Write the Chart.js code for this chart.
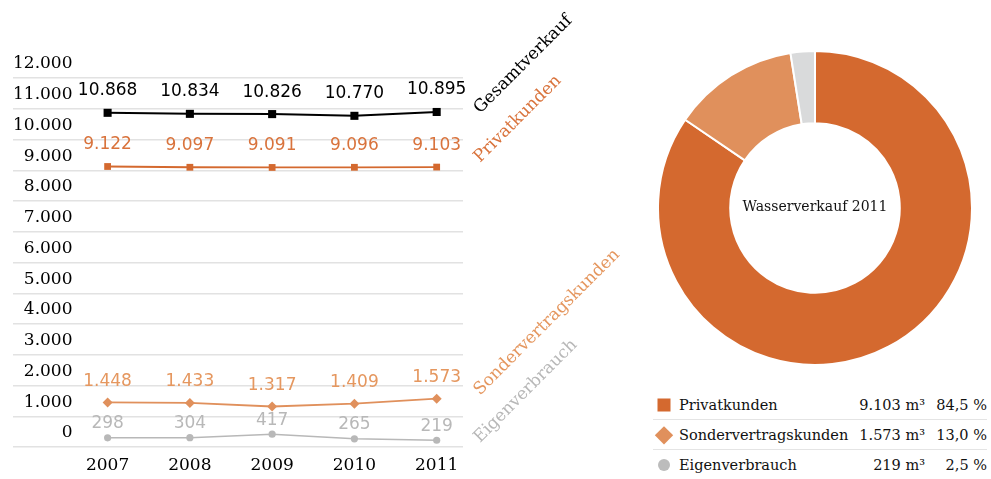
<!DOCTYPE html>
<html lang="de">
<head>
<meta charset="utf-8">
<title>Wasserverkauf</title>
<script src="https://cdn.jsdelivr.net/npm/chart.js@4.4.1/dist/chart.umd.min.js"></script>
<style>
  html, body { margin: 0; padding: 0; background: #fff; }
  body { width: 991px; height: 479px; position: relative; overflow: hidden; font-family: "DejaVu Serif", serif; }
  #lineWrap { position: absolute; left: 0; top: 0; width: 645px; height: 479px; }
  #pieWrap { position: absolute; left: 657px; top: 50px; width: 316px; height: 316px; }
  #legend { position: absolute; left: 653px; top: 390px; width: 334px; }
  .row { position: relative; box-sizing: border-box; height: 30px; line-height: 30px; font-size: 14.5px; color: #111; }
  .row:not(:last-child) { border-bottom: 1.5px solid #e4e4e4; }
  .row .name { position: absolute; left: 26px; top: 0; }
  .row .volume { position: absolute; right: 62px; top: 0; }
  .row .share { position: absolute; right: 0; top: 0; }
  .marker { position: absolute; left: 11px; top: 15px; transform: translate(-50%, -50%); }
  .marker.square { width: 13px; height: 13px; background: #d4692f; }
  .marker.diamond { width: 12.5px; height: 12.5px; background: #e0905c; transform: translate(-50%, -50%) rotate(45deg); }
  .marker.circle { width: 12px; height: 12px; border-radius: 50%; background: #bcbcbc; }
</style>
</head>
<body>
<div id="lineWrap"><canvas id="lineChart"></canvas></div>
<div id="pieWrap"><canvas id="pieChart"></canvas></div>
<div id="legend"></div>
<script>
const years = [2007, 2008, 2009, 2010, 2011];
const gesamtverkauf = [10868, 10834, 10826, 10770, 10895];
const privatkunden = [9122, 9097, 9091, 9096, 9103];
const sondervertragskunden = [1448, 1433, 1317, 1409, 1573];
const eigenverbrauch = [298, 304, 417, 265, 219];

const yMin = 0;
const yMax = 12000;
const yStep = 1000;

const pieTitle = "Wasserverkauf 2011";
const pieLabels = ["Privatkunden", "Sondervertragskunden", "Eigenverbrauch"];
const pieVolumes = [9103, 1573, 219];
const pieShares = [84.5, 13.0, 2.5];

const numberFormatter = new Intl.NumberFormat("de-DE");
const shareFormatter = new Intl.NumberFormat("de-DE", { minimumFractionDigits: 1, maximumFractionDigits: 1 });

const seriesStyles = [
  { label: "Gesamtverkauf", data: gesamtverkauf, line: "#000000", text: "#000000", pointStyle: "rect", radius: 5.7, width: 2, gap: 22, nameShift: 2 },
  { label: "Privatkunden", data: privatkunden, line: "#d4692f", text: "#d9733c", pointStyle: "rect", radius: 4.8, width: 1.8, gap: 22, nameShift: -4 },
  { label: "Sondervertragskunden", data: sondervertragskunden, line: "#e0905c", text: "#e5975f", pointStyle: "rectRot", radius: 5, width: 1.8, gap: 21, nameShift: -3 },
  { label: "Eigenverbrauch", data: eigenverbrauch, line: "#b8b8b8", text: "#b8b8b8", pointStyle: "circle", radius: 3.6, width: 1.5, gap: 14, nameShift: 3 },
];

const pieColors = ["#d4692f", "#e0905c", "#d9dadb"];
const markerClasses = ["square", "diamond", "circle"];

// values above each point plus the rotated series names at the right end
const lineLabelPlugin = {
  id: "lineLabels",
  afterDatasetsDraw(chart) {
    const { ctx } = chart;
    const xScale = chart.scales.x;
    ctx.save();
    chart.data.datasets.forEach((dataset, i) => {
      const style = seriesStyles[i];
      const meta = chart.getDatasetMeta(i);
      ctx.fillStyle = style.text;
      ctx.font = '17px "DejaVu Sans"';
      ctx.textAlign = "center";
      ctx.textBaseline = "middle";
      meta.data.forEach((point, j) => {
        ctx.fillText(numberFormatter.format(style.data[j]), point.x, point.y - style.gap);
      });

      const last = meta.data[meta.data.length - 1];
      ctx.save();
      ctx.translate(xScale.right + 17, last.y + style.nameShift);
      ctx.rotate(-Math.PI / 4);
      ctx.textAlign = "left";
      ctx.textBaseline = "alphabetic";
      ctx.font = '17px "DejaVu Serif"';
      ctx.fillText(dataset.label, 0, 0);
      ctx.restore();
    });
    ctx.restore();
  },
};

const centerTextPlugin = {
  id: "centerText",
  afterDraw(chart) {
    const { ctx, chartArea } = chart;
    ctx.save();
    ctx.fillStyle = "#111";
    ctx.font = '14px "DejaVu Serif"';
    ctx.textAlign = "center";
    ctx.textBaseline = "middle";
    ctx.fillText(pieTitle, (chartArea.left + chartArea.right) / 2, (chartArea.top + chartArea.bottom) / 2 - 1);
    ctx.restore();
  },
};

function renderLineChart() {
  const context = document.getElementById("lineChart").getContext("2d");
  new Chart(context, {
    type: "line",
    data: {
      datasets: seriesStyles.map((style) => ({
        label: style.label,
        data: years.map((year, i) => ({ x: year, y: style.data[i] })),
        borderColor: style.line,
        backgroundColor: style.line,
        borderWidth: style.width,
        pointStyle: style.pointStyle,
        pointRadius: style.radius,
        pointBorderWidth: 0,
        tension: 0,
        fill: false,
      })),
    },
    options: {
      responsive: true,
      maintainAspectRatio: false,
      animation: false,
      layout: { padding: { left: 13, right: 182, top: 78, bottom: 4 } },
      plugins: {
        legend: { display: false },
        tooltip: { enabled: false },
      },
      scales: {
        x: {
          type: "linear",
          min: 2005.85,
          max: 2011.32,
          grid: { display: false, drawTicks: false },
          border: { display: false },
          afterBuildTicks(axis) {
            axis.ticks = years.map((value) => ({ value }));
          },
          afterFit(axis) {
            axis.height = 28;
          },
          ticks: {
            color: "#000",
            padding: 8,
            font: { family: "DejaVu Serif", size: 17 },
            callback: (value) => String(value),
          },
        },
        y: {
          min: yMin,
          max: yMax,
          border: { display: false },
          grid: { color: "#e2e2e2", lineWidth: 1.5, drawTicks: false },
          ticks: {
            stepSize: yStep,
            mirror: true,
            crossAlign: "far",
            padding: 0,
            labelOffset: -14,
            color: "#000",
            font: { family: "DejaVu Serif", size: 17 },
            callback: (value) => numberFormatter.format(value),
          },
        },
      },
    },
    plugins: [lineLabelPlugin],
  });
}

function renderPieChart() {
  const context = document.getElementById("pieChart").getContext("2d");
  new Chart(context, {
    type: "doughnut",
    data: {
      labels: pieLabels,
      datasets: [
        {
          data: pieShares,
          backgroundColor: pieColors,
          borderColor: "#ffffff",
          borderWidth: 2,
        },
      ],
    },
    options: {
      responsive: true,
      maintainAspectRatio: false,
      animation: false,
      cutout: "54%",
      plugins: {
        legend: { display: false },
        tooltip: { enabled: false },
      },
    },
    plugins: [centerTextPlugin],
  });
}

function renderLegend() {
  document.getElementById("legend").innerHTML = pieLabels
    .map(
      (label, i) => `
        <div class="row">
          <span class="marker ${markerClasses[i]}"></span>
          <span class="name">${label}</span>
          <span class="volume">${numberFormatter.format(pieVolumes[i])} m³</span>
          <span class="share">${shareFormatter.format(pieShares[i])} %</span>
        </div>
      `,
    )
    .join("");
}

renderLineChart();
renderPieChart();
renderLegend();
</script>
</body>
</html>
